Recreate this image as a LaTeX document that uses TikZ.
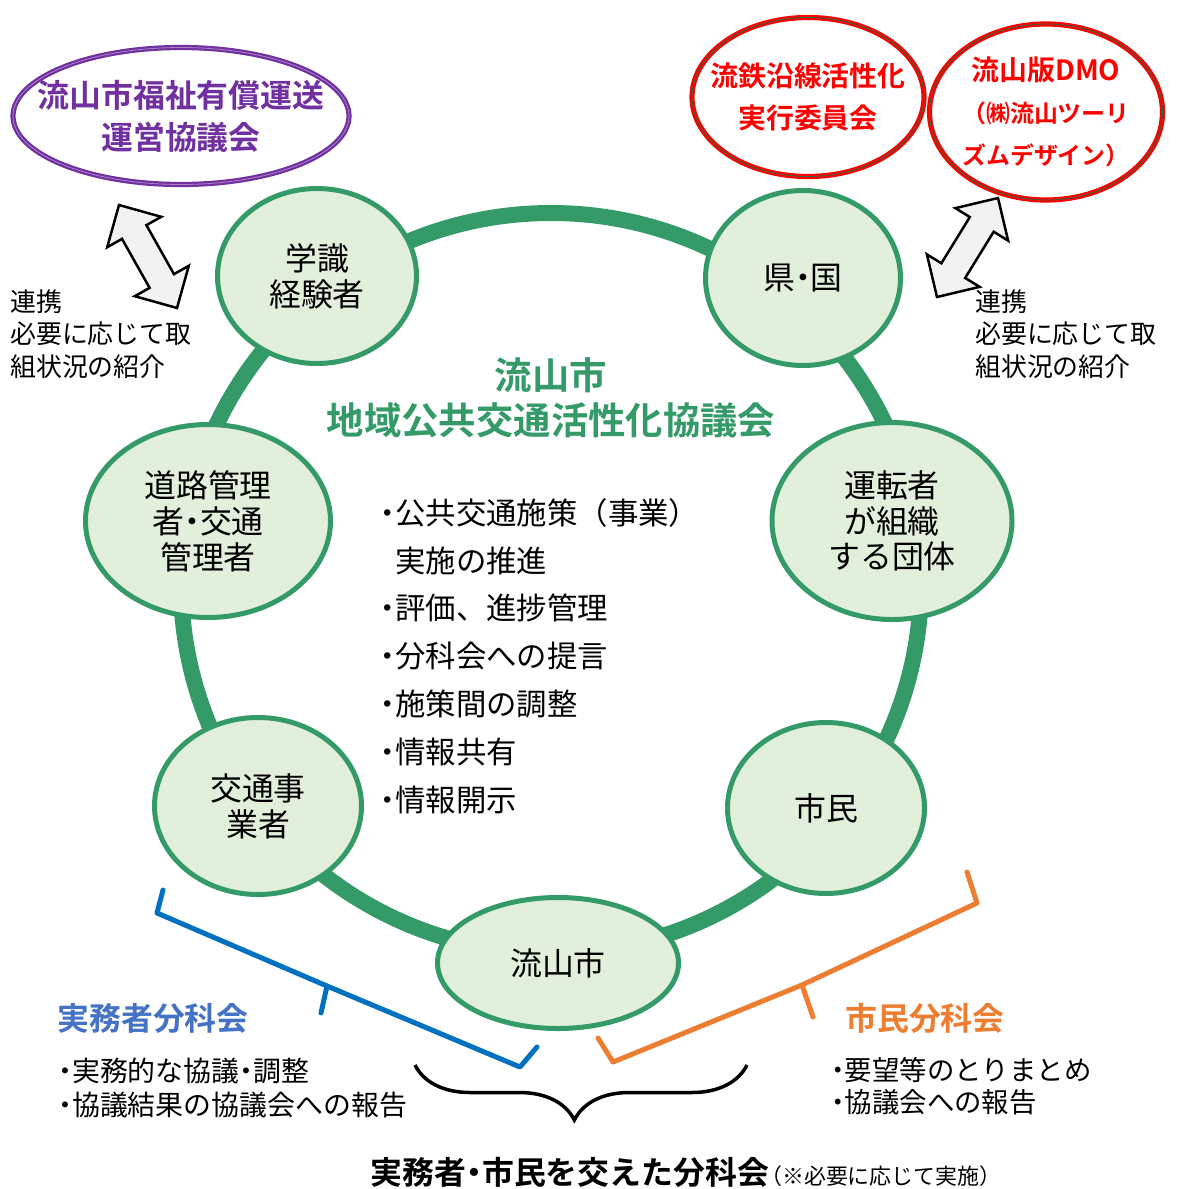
\documentclass[tikz,border=0pt]{standalone}
\usepackage{fontspec}
\setmainfont{Noto Sans CJK JP}[BoldFont={Noto Sans CJK JP Bold}]
\usetikzlibrary{shapes.geometric,decorations.pathreplacing,calc}
\definecolor{ringgreen}{RGB}{52,154,104}
\definecolor{nodefill}{RGB}{226,239,218}
\definecolor{kaipurple}{RGB}{112,48,160}
\definecolor{kaired}{RGB}{255,0,0}
\definecolor{bunblue}{RGB}{0,112,192}
\definecolor{buntext}{RGB}{68,114,196}
\definecolor{bunorange}{RGB}{237,125,49}
\definecolor{arrowgray}{RGB}{242,242,242}
\newcommand{\nakaguro}{\makebox[0.5em]{・}}

\begin{document}
\begin{tikzpicture}[x=1bp,y=-1bp]
\tikzstyle{member}=[ellipse,draw=ringgreen,fill=nodefill,line width=5bp,inner sep=0pt,align=center,font=\fontsize{32}{36}\selectfont]
\tikzstyle{kaigi}=[ellipse,fill=white,line width=2.2bp,double distance=0.8bp,inner sep=0pt]
\tikzstyle{kaigitext}=[align=center,inner sep=0pt,font=\bfseries\fontsize{28}{42}\selectfont]
\tikzstyle{note}=[align=left,anchor=west,inner sep=0pt]
\tikzstyle{linkarrow}=[draw=black,line width=2.5bp,fill=arrowgray,line join=miter]
\tikzstyle{bunbrace}=[line width=5bp,line join=round,line cap=round]

\useasboundingbox (0,0) rectangle (1185,1189);

\node[circle,draw=ringgreen,line width=16bp,minimum size=740bp,inner sep=0pt] (ring) at (551,583) {};

\node[member,minimum width=199bp,minimum height=175bp] (gakushiki) at (317,276) {学識\\経験者};
\node[member,minimum width=195bp,minimum height=175bp] (kenkuni) at (803,278) {県\nakaguro 国};
\node[member,minimum width=245bp,minimum height=193bp] (doro) at (208,521) {道路管理\\者\nakaguro 交通\\管理者};
\node[member,minimum width=240bp,minimum height=197bp] (untensha) at (892,521) {運転者\\が組織\\する団体};
\node[member,minimum width=207bp,minimum height=177bp] (jigyosha) at (258,806) {交通事\\業者};
\node[member,minimum width=197bp,minimum height=171bp] (shimin) at (826,808) {市民};
\node[member,minimum width=241bp,minimum height=131bp] (shi) at (558,963) {流山市};

\node[text=ringgreen,align=center,inner sep=0pt,font=\bfseries\fontsize{37.5}{45}\selectfont] (kyogikai) at (551,398) {流山市\\地域公共交通活性化協議会};
\node[note,font=\fontsize{30.5}{48}\selectfont] (yakuwari) at (380,656) {\nakaguro 公共交通施策（事業）\\\hspace*{0.5em}実施の推進\\\nakaguro 評価、進捗管理\\\nakaguro 分科会への提言\\\nakaguro 施策間の調整\\\nakaguro 情報共有\\\nakaguro 情報開示};

\node[kaigi,draw=kaipurple,double=kaipurple!60!white,minimum width=336bp,minimum height=137bp] (fukushi) at (181,116) {};
\node[kaigitext,text=kaipurple,font=\bfseries\fontsize{32}{42}\selectfont] (fukushi text) at (fukushi.center) {流山市福祉有償運送\\運営協議会};
\node[kaigi,draw=kaired,double=ringgreen!70!black,minimum width=232bp,minimum height=159bp] (ryutetsu) at (808,97) {};
\node[kaigitext,text=kaired] (ryutetsu text) at (ryutetsu.center) {流鉄沿線活性化\\実行委員会};
\node[kaigi,draw=kaired,double=ringgreen!70!black,minimum width=233bp,minimum height=176bp] (dmo) at (1046,112) {};
\node[kaigitext,text=kaired] (dmo text) at (dmo.center) {流山版DMO\\{\fontsize{24}{42}\selectfont （㈱流山ツーリ}\\{\fontsize{24}{42}\selectfont ズムデザイン）}};

\coordinate (linkL1) at (119,205);
\coordinate (linkL2) at (177,308);
\coordinate (linkL1h) at ($(linkL1)!31bp!(linkL2)$);
\coordinate (linkL2h) at ($(linkL2)!31bp!(linkL1)$);
\draw[linkarrow] (linkL1) -- ($(linkL1h)!31bp!90:(linkL2)$) -- ($(linkL1h)!14bp!90:(linkL2)$) -- ($(linkL2h)!14bp!-90:(linkL1)$) -- ($(linkL2h)!31bp!-90:(linkL1)$) -- (linkL2) -- ($(linkL2h)!31bp!90:(linkL1)$) -- ($(linkL2h)!14bp!90:(linkL1)$) -- ($(linkL1h)!14bp!-90:(linkL2)$) -- ($(linkL1h)!31bp!-90:(linkL2)$) -- cycle;

\coordinate (linkR1) at (998,198);
\coordinate (linkR2) at (937,297);
\coordinate (linkR1h) at ($(linkR1)!31bp!(linkR2)$);
\coordinate (linkR2h) at ($(linkR2)!31bp!(linkR1)$);
\draw[linkarrow] (linkR1) -- ($(linkR1h)!31bp!90:(linkR2)$) -- ($(linkR1h)!14bp!90:(linkR2)$) -- ($(linkR2h)!14bp!-90:(linkR1)$) -- ($(linkR2h)!31bp!-90:(linkR1)$) -- (linkR2) -- ($(linkR2h)!31bp!90:(linkR1)$) -- ($(linkR2h)!14bp!90:(linkR1)$) -- ($(linkR1h)!14bp!-90:(linkR2)$) -- ($(linkR1h)!31bp!-90:(linkR2)$) -- cycle;

\node[note,font=\fontsize{26}{32.5}\selectfont] (renkeiL) at (10,334) {連携\\必要に応じて取\\組状況の紹介};
\node[note,font=\fontsize{26}{32.5}\selectfont] (renkeiR) at (975,334) {連携\\必要に応じて取\\組状況の紹介};

\coordinate (jitsumuA) at (163,890);
\coordinate (jitsumuB) at (537,1047);
\coordinate (jitsumuTip) at (321,1013);
\draw[bunbrace,draw=bunblue] (jitsumuA) -- (157,913) -- (327,986) -- (520,1067) -- (jitsumuB);
\draw[bunbrace,draw=bunblue] (327,986) -- (jitsumuTip);
\coordinate (shiminA) at (967,872);
\coordinate (shiminB) at (598,1038);
\coordinate (shiminTip) at (813,1017);
\draw[bunbrace,draw=bunorange] (shiminA) -- (977,903) -- (802,985) -- (613,1062) -- (shiminB);
\draw[bunbrace,draw=bunorange] (802,985) -- (shiminTip);
\coordinate (majieA) at (747,1065);
\coordinate (majieB) at (415,1065);
\draw[decorate,draw=black,line width=3.5bp,decoration={brace,amplitude=55bp,aspect=0.52}] (majieA) -- (majieB);

\node[text=buntext,inner sep=0pt,font=\bfseries\fontsize{32}{36}\selectfont] (jitsumu) at (153,1018) {実務者分科会};
\node[note,font=\fontsize{28}{35}\selectfont] (jitsumu list) at (58,1088) {\nakaguro 実務的な協議\nakaguro 調整\\\nakaguro 協議結果の協議会への報告};
\node[text=bunorange,inner sep=0pt,font=\bfseries\fontsize{32}{36}\selectfont] (shiminbun) at (925,1018) {市民分科会};
\node[note,font=\fontsize{27.5}{32}\selectfont] (shiminbun list) at (831,1086) {\nakaguro 要望等のとりまとめ\\\nakaguro 協議会への報告};
\node[inner sep=0pt] (majie) at (686,1172) {{\bfseries\fontsize{32}{36}\selectfont 実務者\nakaguro 市民を交えた分科会}{\fontsize{22}{36}\selectfont\hspace{-0.4em}（※必要に応じて実施）}};
\end{tikzpicture}
\end{document}
